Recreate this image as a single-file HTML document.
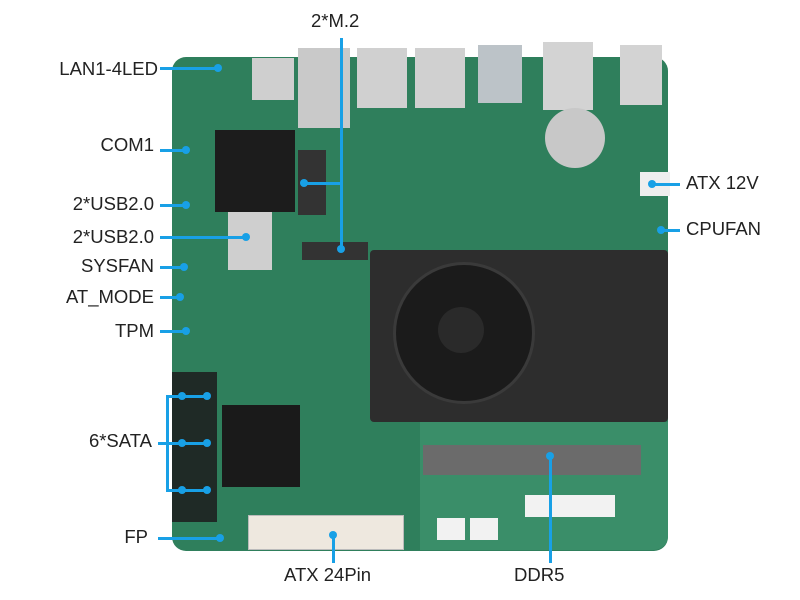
<!DOCTYPE html>
<html><head><style>
body{margin:0;width:800px;height:600px;background:#fff;position:relative;overflow:hidden;font-family:"Liberation Sans",sans-serif}
.a{position:absolute}
.t{position:absolute;font-size:18.5px;color:#222;white-space:nowrap}
.l{position:absolute;background:#18a0e6}
.d{position:absolute;width:8px;height:8px;border-radius:50%;background:#18a0e6}
</style></head><body>
<div class="a" style="left:172px;top:57px;width:496px;height:494px;background:#2f7f5c;border-radius:14px"></div>
<div class="a" style="left:252px;top:58px;width:42px;height:42px;background:#cfcfcf"></div>
<div class="a" style="left:298px;top:48px;width:52px;height:80px;background:#c9c9c9"></div>
<div class="a" style="left:357px;top:48px;width:50px;height:60px;background:#d0d0d0"></div>
<div class="a" style="left:415px;top:48px;width:50px;height:60px;background:#d0d0d0"></div>
<div class="a" style="left:478px;top:45px;width:44px;height:58px;background:#bcc3c8"></div>
<div class="a" style="left:543px;top:42px;width:50px;height:68px;background:#d3d3d3"></div>
<div class="a" style="left:620px;top:45px;width:42px;height:60px;background:#d3d3d3"></div>
<div class="a" style="left:215px;top:130px;width:80px;height:82px;background:#1c1c1c"></div>
<div class="a" style="left:228px;top:212px;width:44px;height:58px;background:#cfcfcf"></div>
<div class="a" style="left:298px;top:150px;width:28px;height:65px;background:#333"></div>
<div class="a" style="left:302px;top:242px;width:66px;height:18px;background:#333"></div>
<div class="a" style="left:545px;top:108px;width:60px;height:60px;border-radius:50%;background:#c8c8c8"></div>
<div class="a" style="left:640px;top:172px;width:30px;height:24px;background:#eee"></div>
<div class="a" style="left:370px;top:250px;width:298px;height:172px;background:#2d2d2d;border-radius:4px"></div>
<div class="a" style="left:393px;top:262px;width:136px;height:136px;border-radius:50%;background:#1b1b1b;border:3px solid #3a3a3a"></div>
<div class="a" style="left:438px;top:307px;width:46px;height:46px;border-radius:50%;background:#2a2a2a"></div>
<div class="a" style="left:172px;top:372px;width:45px;height:150px;background:#1f2a26"></div>
<div class="a" style="left:222px;top:405px;width:78px;height:82px;background:#1a1a1a"></div>
<div class="a" style="left:248px;top:515px;width:154px;height:33px;background:#eee8df;border:1px solid #bbb"></div>
<div class="a" style="left:420px;top:422px;width:248px;height:128px;background:#3a8e69;border-radius:0 0 14px 0"></div>
<div class="a" style="left:423px;top:445px;width:218px;height:30px;background:#6b6b6b"></div>
<div class="a" style="left:525px;top:495px;width:90px;height:22px;background:#f2f2f2"></div>
<div class="a" style="left:437px;top:518px;width:28px;height:22px;background:#f2f2f2"></div>
<div class="a" style="left:470px;top:518px;width:28px;height:22px;background:#f2f2f2"></div>
<div class="l" style="left:160px;top:67px;width:58px;height:3px"></div><div class="d" style="left:214px;top:64px"></div>
<div class="l" style="left:160px;top:149px;width:26px;height:3px"></div><div class="d" style="left:182px;top:146px"></div>
<div class="l" style="left:160px;top:204px;width:26px;height:3px"></div><div class="d" style="left:182px;top:201px"></div>
<div class="l" style="left:160px;top:236px;width:86px;height:3px"></div><div class="d" style="left:242px;top:233px"></div>
<div class="l" style="left:160px;top:266px;width:24px;height:3px"></div><div class="d" style="left:180px;top:263px"></div>
<div class="l" style="left:160px;top:296px;width:20px;height:3px"></div><div class="d" style="left:176px;top:293px"></div>
<div class="l" style="left:160px;top:330px;width:26px;height:3px"></div><div class="d" style="left:182px;top:327px"></div>
<div class="l" style="left:340px;top:38px;width:3px;height:212px"></div><div class="d" style="left:337px;top:245px"></div>
<div class="l" style="left:305px;top:182px;width:37px;height:3px"></div><div class="d" style="left:300px;top:179px"></div>
<div class="l" style="left:166px;top:395px;width:3px;height:96px"></div>
<div class="l" style="left:166px;top:395px;width:44px;height:3px"></div><div class="d" style="left:178px;top:392px"></div><div class="d" style="left:203px;top:392px"></div>
<div class="l" style="left:158px;top:442px;width:52px;height:3px"></div><div class="d" style="left:178px;top:439px"></div><div class="d" style="left:203px;top:439px"></div>
<div class="l" style="left:166px;top:489px;width:44px;height:3px"></div><div class="d" style="left:178px;top:486px"></div><div class="d" style="left:203px;top:486px"></div>
<div class="l" style="left:158px;top:537px;width:62px;height:3px"></div><div class="d" style="left:216px;top:534px"></div>
<div class="l" style="left:332px;top:535px;width:3px;height:28px"></div><div class="d" style="left:329px;top:531px"></div>
<div class="l" style="left:549px;top:456px;width:3px;height:107px"></div><div class="d" style="left:546px;top:452px"></div>
<div class="l" style="left:652px;top:183px;width:28px;height:3px"></div><div class="d" style="left:648px;top:180px"></div>
<div class="l" style="left:661px;top:229px;width:19px;height:3px"></div><div class="d" style="left:657px;top:226px"></div>
<div class="t" style="right:642px;top:58px">LAN1-4LED</div>
<div class="t" style="right:646px;top:134px">COM1</div>
<div class="t" style="right:646px;top:193px">2*USB2.0</div>
<div class="t" style="right:646px;top:226px">2*USB2.0</div>
<div class="t" style="right:646px;top:255px">SYSFAN</div>
<div class="t" style="right:646px;top:286px">AT_MODE</div>
<div class="t" style="right:646px;top:320px">TPM</div>
<div class="t" style="right:648px;top:430px">6*SATA</div>
<div class="t" style="right:652px;top:526px">FP</div>
<div class="t" style="left:311px;top:10px">2*M.2</div>
<div class="t" style="left:686px;top:172px">ATX 12V</div>
<div class="t" style="left:686px;top:218px">CPUFAN</div>
<div class="t" style="left:284px;top:564px">ATX 24Pin</div>
<div class="t" style="left:514px;top:564px">DDR5</div>
</body></html>
